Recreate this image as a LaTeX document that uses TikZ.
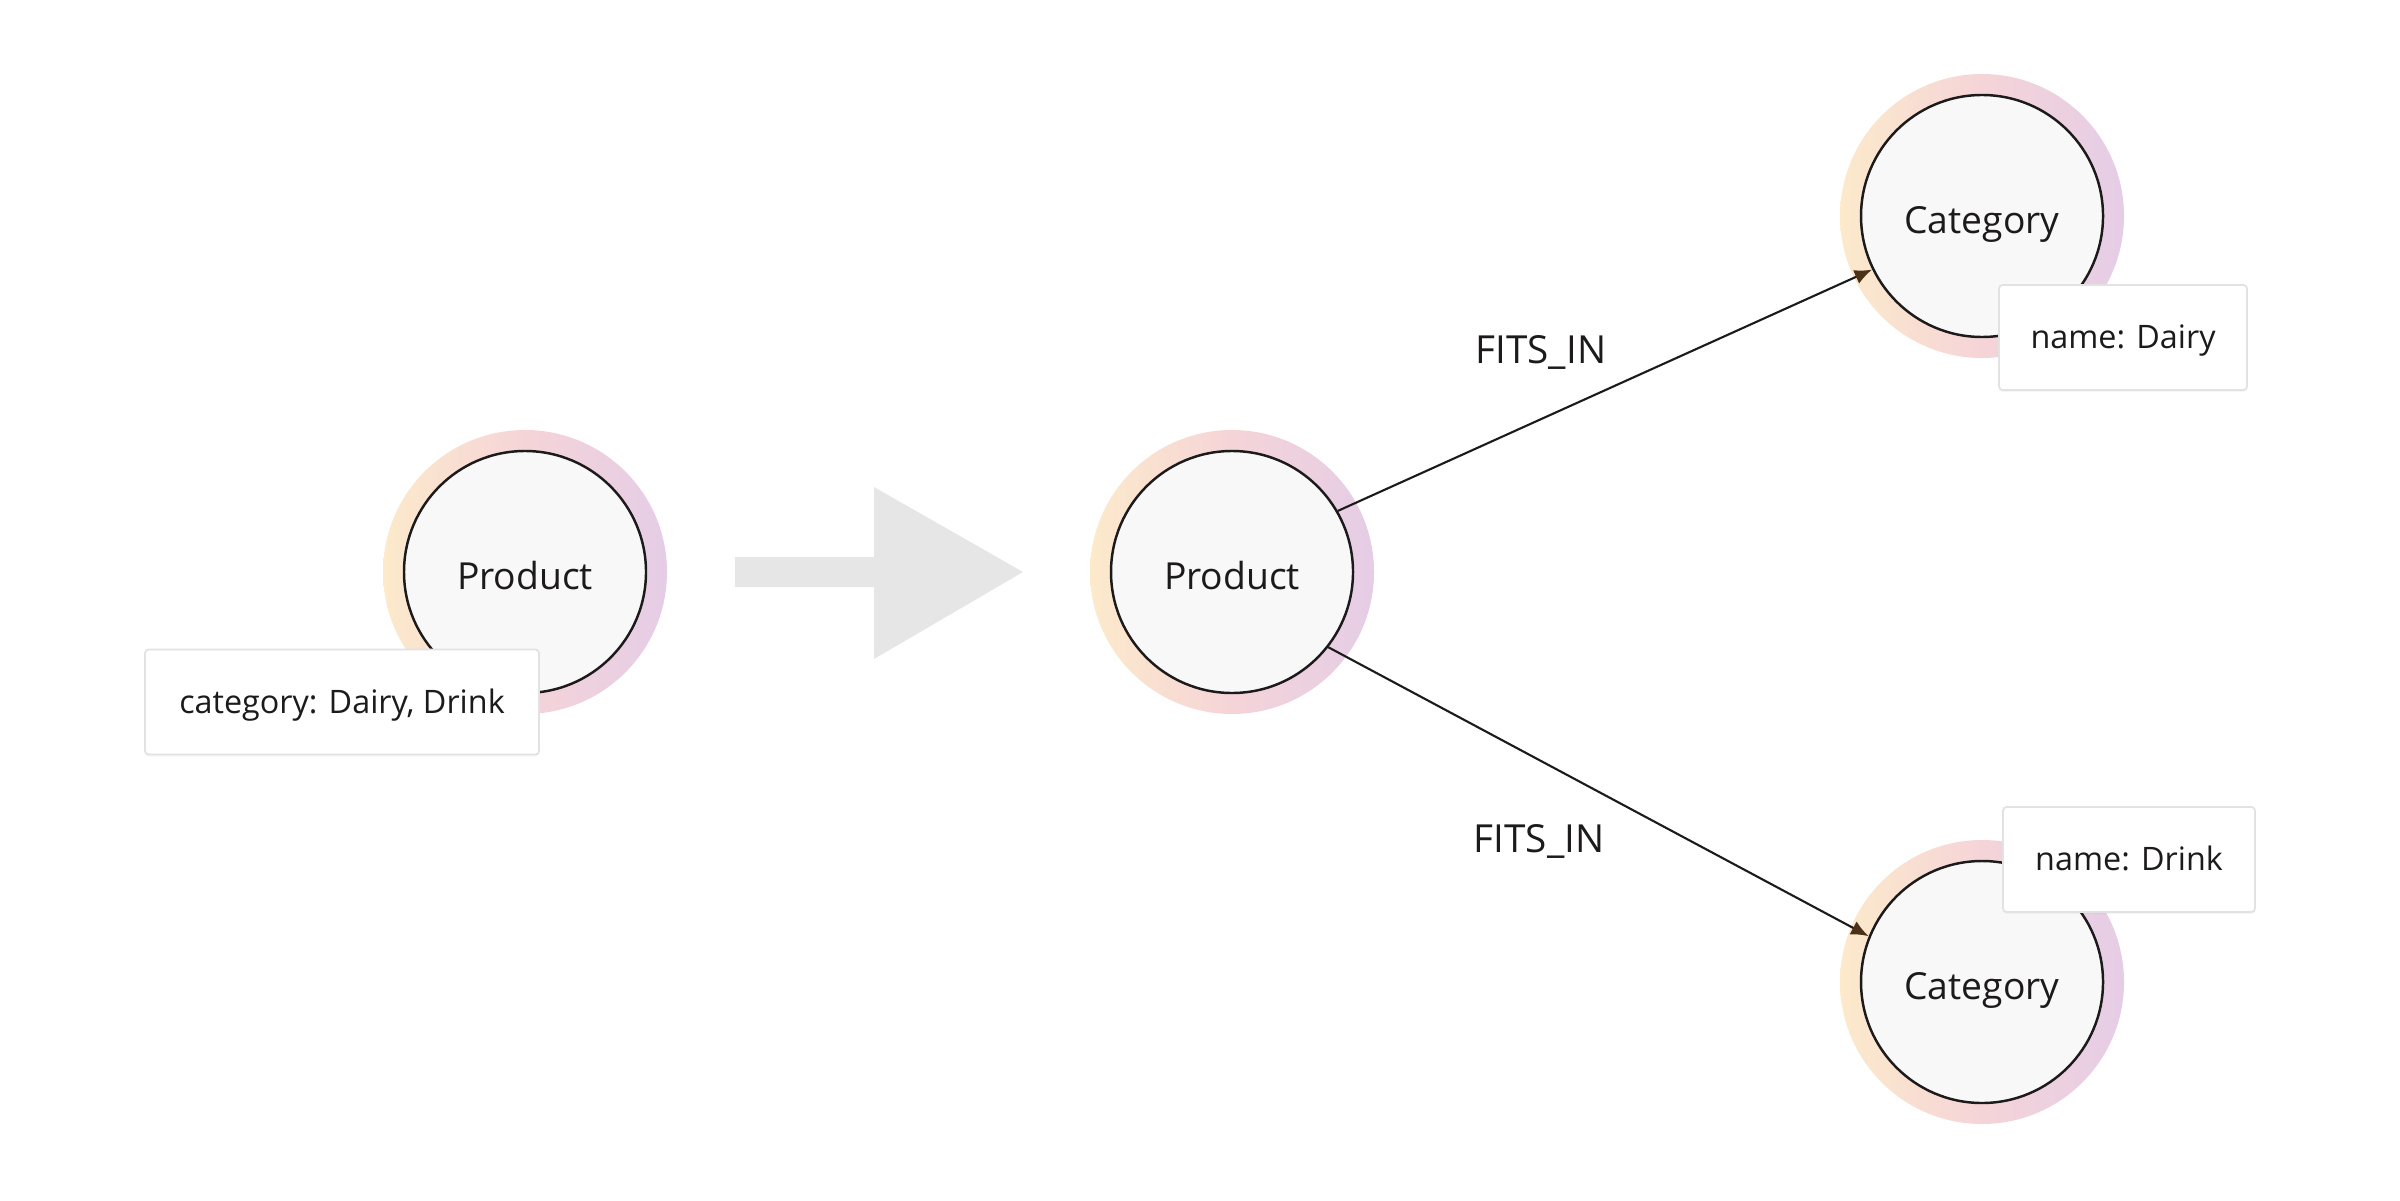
\documentclass[tikz,border=0pt]{standalone}
\usepackage{fontspec}
\setmainfont{Open Sans}
\usetikzlibrary{positioning, arrows.meta, shadows, backgrounds}

\definecolor{nodefill}{HTML}{F8F8F8}
\definecolor{inkline}{HTML}{1C1A1A}
\definecolor{ringcream}{HTML}{FCEACB}
\definecolor{ringpink}{HTML}{F5D4D8}
\definecolor{ringlilac}{HTML}{E5CDE6}
\definecolor{arrowbrown}{HTML}{4A3117}
\definecolor{propline}{HTML}{E2E2E2}
\definecolor{bigarrow}{HTML}{E6E6E6}

\begin{document}
\begin{tikzpicture}[node distance=7.07cm, on grid,
    graphnode/.style={circle, draw=inkline, line width=0.7pt, fill=nodefill,
      minimum size=2.42cm, inner sep=0pt, text=inkline,
      text height=10pt, text depth=0pt,
      font=\fontsize{10.6}{12}\selectfont},
    propbox/.style={rectangle, draw=propline, line width=0.5pt, fill=white,
      rounded corners=1pt, minimum height=1.05cm, inner sep=0pt, text=inkline,
      text height=6.3pt, text depth=0pt,
      font=\fontsize{9.2}{11}\selectfont,
      drop shadow={opacity=0.07, shadow xshift=0pt, shadow yshift=-0.6pt}},
    halo/.style={left color=ringcream, right color=ringlilac, middle color=ringpink},
    rel/.style={draw=inkline, line width=0.6pt,
      -{Latex[length=5pt,width=4.2pt,color=arrowbrown]}},
    rellabel/.style={text=inkline, font=\fontsize{11}{13}\selectfont}]
  \useasboundingbox (0,0) rectangle (24,12);

  % before
  \node[graphnode] (prod1) at (5.25,6.28) {Product};

  % after
  \node[graphnode] (prod2) [right=of prod1] {Product};
  \node[graphnode] (cat1) [above right=3.56cm and 7.5cm of prod2] {Category};
  \node[graphnode] (cat2) [below right=4.1cm and 7.5cm of prod2] {Category};

  \begin{scope}[on background layer]
    \foreach \n in {prod1, prod2, cat1, cat2}
      \shade[halo] (\n.center) circle (1.42cm);
  \end{scope}

  % refactor arrow
  \fill[bigarrow] (7.35,6.43) -- (8.74,6.43) -- (8.74,7.13) -- (10.23,6.28)
    -- (8.74,5.41) -- (8.74,6.13) -- (7.35,6.13) -- cycle;

  \path (prod2.30) edge[rel] node[rellabel, pos=0.38, yshift=0.665cm] {FITS\_IN} (cat1.206)
        (prod2.-38) edge[rel] node[rellabel, pos=0.39, yshift=-0.815cm] {FITS\_IN} (cat2.158);

  % properties
  \node[propbox, minimum width=3.94cm] (prodprops) [below left=1.3cm and 1.83cm of prod1] {category: Dairy, Drink};
  \node[propbox, minimum width=2.48cm] (dairyprops) [below right=1.215cm and 1.41cm of cat1] {name: Dairy};
  \node[propbox, minimum width=2.52cm] (drinkprops) [above right=1.225cm and 1.47cm of cat2] {name: Drink};
\end{tikzpicture}
\end{document}
